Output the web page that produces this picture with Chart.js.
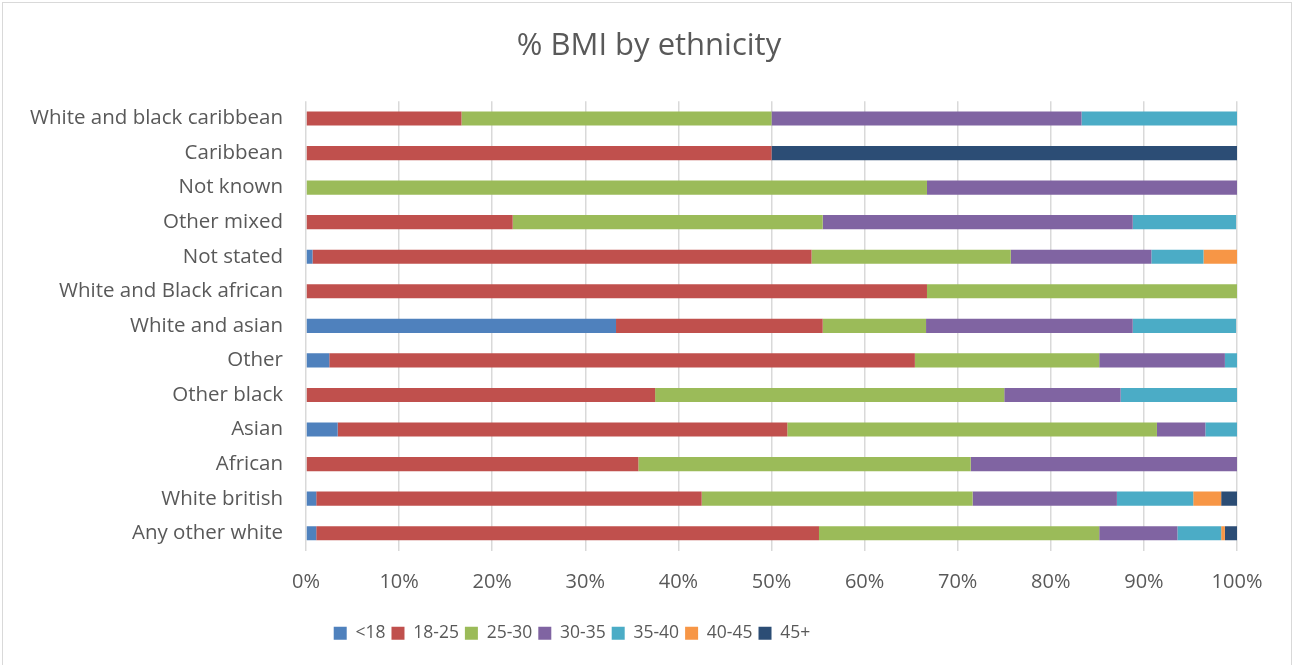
<!DOCTYPE html>
<html>
<head>
<meta charset="utf-8">
<title>% BMI by ethnicity</title>
<script src="https://cdn.jsdelivr.net/npm/chart.js@4.4.1/dist/chart.umd.min.js"></script>
<style>
    html, body { margin: 0; padding: 0; background: #fff; }
    #wrap { position: relative; width: 1292px; height: 665px; overflow: hidden; }
    #frame { position: absolute; left: 2px; top: 2px; width: 1288px; height: 700px; border: 1px solid #d9d9d9; pointer-events: none; }
</style>
</head>
<body>
<div id="wrap">
    <canvas id="bmiChart"></canvas>
    <div id="frame"></div>
</div>
<script>
// categories, top to bottom as in the picture
const ethnicities = [
    'White and black caribbean', 'Caribbean', 'Not known', 'Other mixed', 'Not stated',
    'White and Black african', 'White and asian', 'Other', 'Other black', 'Asian',
    'African', 'White british', 'Any other white'
];

// share (%) of each BMI band per ethnicity, same order as above
const under18 = [0, 0, 0, 0, 0.7, 0, 33.3, 2.5, 0, 3.4, 0, 1.1, 1.1];
const bmi18to25 = [16.7, 50, 0, 22.2, 53.6, 66.7, 22.2, 62.9, 37.5, 48.3, 35.7, 41.4, 54.0];
const bmi25to30 = [33.3, 0, 66.7, 33.3, 21.4, 33.3, 11.1, 19.8, 37.5, 39.7, 35.7, 29.1, 30.1];
const bmi30to35 = [33.3, 0, 33.3, 33.3, 15.1, 0, 22.2, 13.5, 12.5, 5.2, 28.6, 15.5, 8.4];
const bmi35to40 = [16.7, 0, 0, 11.1, 5.6, 0, 11.1, 1.3, 12.5, 3.4, 0, 8.2, 4.7];
const bmi40to45 = [0, 0, 0, 0, 3.6, 0, 0, 0, 0, 0, 0, 3.0, 0.4];
const bmi45plus = [0, 50, 0, 0, 0, 0, 0, 0, 0, 0, 0, 1.7, 1.3];

const xTicks = [0, 10, 20, 30, 40, 50, 60, 70, 80, 90, 100];

const textColor = '#595959';
const fontFamily = '"Open Sans", "Noto Sans", sans-serif';

const datasets = [
    { label: '<18', data: under18, backgroundColor: '#4f81bd' },
    { label: '18-25', data: bmi18to25, backgroundColor: '#c0504d' },
    { label: '25-30', data: bmi25to30, backgroundColor: '#9bbb59' },
    { label: '30-35', data: bmi30to35, backgroundColor: '#8064a2' },
    { label: '35-40', data: bmi35to40, backgroundColor: '#4bacc6' },
    { label: '40-45', data: bmi40to45, backgroundColor: '#f79646' },
    { label: '45+', data: bmi45plus, backgroundColor: '#2c4d75' }
].map(ds => ({ ...ds, categoryPercentage: 1, barPercentage: 0.41, borderWidth: 0 }));

// Excel placed title and legend on different centres; move the boxes after layout
const boxCentres = {
    id: 'boxCentres',
    afterLayout(chart) {
        const moveTo = (box, cx) => {
            if (!box) return;
            const dx = cx - (box.left + box.right) / 2;
            box.left += dx;
            box.right += dx;
        };
        moveTo(chart.titleBlock, 649);
        moveTo(chart.legend, 572);
    }
};

Chart.defaults.font.family = fontFamily;
Chart.defaults.color = textColor;

new Chart(document.getElementById('bmiChart'), {
    type: 'bar',
    data: { labels: ethnicities, datasets },
    plugins: [boxCentres],
    options: {
        indexAxis: 'y',
        responsive: true,
        maintainAspectRatio: false,
        animation: false,
        layout: { padding: { left: 0, right: 55, top: 0, bottom: 13 } },
        plugins: {
            title: {
                display: true,
                text: '% BMI by ethnicity',
                color: textColor,
                font: { size: 31, weight: 'normal' },
                padding: { top: 28, bottom: 36 }
            },
            legend: {
                position: 'bottom',
                labels: {
                    boxWidth: 13,
                    boxHeight: 13,
                    padding: 6,
                    color: textColor,
                    font: { size: 17.5 }
                }
            },
            tooltip: { enabled: false }
        },
        scales: {
            x: {
                stacked: true,
                min: 0,
                max: 100,
                afterBuildTicks: (scale) => { scale.ticks = xTicks.map(v => ({ value: v })); },
                afterFit: (scale) => { scale.height = 68; },
                grid: { color: '#d9d9d9', lineWidth: 1.5, drawTicks: false },
                border: { display: false },
                ticks: {
                    padding: 20,
                    color: textColor,
                    font: { size: 20 },
                    callback: (v) => v + '%'
                }
            },
            y: {
                stacked: true,
                afterFit: (scale) => { scale.width = 306; },
                grid: { display: false, drawTicks: false },
                border: { display: false },
                ticks: {
                    padding: 23,
                    color: textColor,
                    font: { size: 20.5 }
                }
            }
        }
    }
});
</script>
</body>
</html>
